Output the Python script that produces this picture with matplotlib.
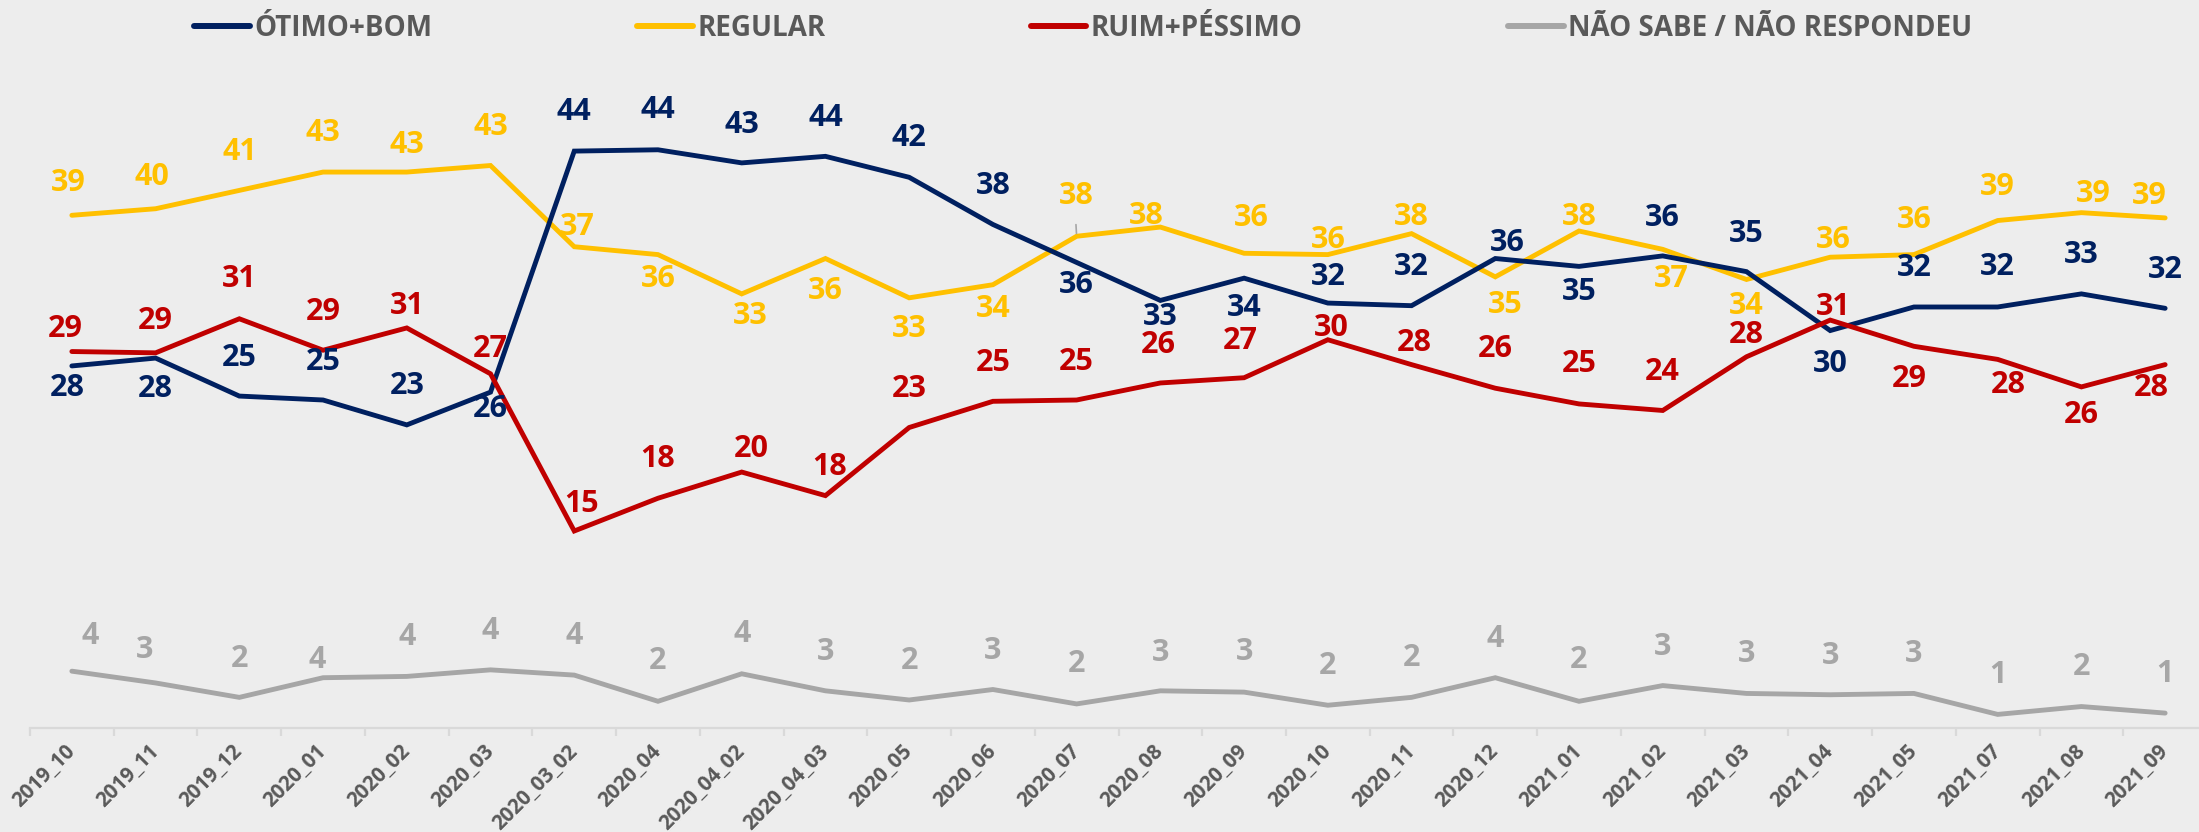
import numpy as np
import matplotlib
matplotlib.use("Agg")
import matplotlib.pyplot as plt
from matplotlib.lines import Line2D

plt.rcParams['font.family'] = ['Open Sans', 'DejaVu Sans']

cats = ['2019_10', '2019_11', '2019_12', '2020_01', '2020_02', '2020_03', '2020_03_02',
        '2020_04', '2020_04_02', '2020_04_03', '2020_05', '2020_06', '2020_07', '2020_08',
        '2020_09', '2020_10', '2020_11', '2020_12', '2021_01', '2021_02', '2021_03',
        '2021_04', '2021_05', '2021_07', '2021_08', '2021_09']

otimo = [27.6, 28.2, 25.3, 25.0, 23.1, 25.6, 44.0, 44.1, 43.1, 43.6, 42.0, 38.4, 35.5,
         32.6, 34.3, 32.4, 32.2, 35.8, 35.2, 36.0, 34.8, 30.3, 32.1, 32.1, 33.1, 32.0]
otimo_lbl = [28, 28, 25, 25, 23, 26, 44, 44, 43, 44, 42, 38, 36,
             33, 34, 32, 32, 36, 35, 36, 35, 30, 32, 32, 33, 32]

regular = [39.1, 39.6, 41.0, 42.4, 42.4, 42.9, 36.7, 36.1, 33.1, 35.8, 32.8, 33.8, 37.5,
           38.2, 36.2, 36.1, 37.7, 34.4, 37.9, 36.5, 34.2, 35.9, 36.1, 38.7, 39.3, 38.9]
regular_lbl = [39, 40, 41, 43, 43, 43, 37, 36, 33, 36, 33, 34, 38,
               38, 36, 36, 38, 35, 38, 37, 34, 36, 36, 39, 39, 39]

ruim = [28.7, 28.6, 31.2, 28.8, 30.5, 27.0, 15.0, 17.5, 19.5, 17.7, 22.9, 24.9, 25.0,
        26.3, 26.7, 29.6, 27.7, 25.9, 24.7, 24.2, 28.3, 31.1, 29.1, 28.1, 26.0, 27.7]
ruim_lbl = [29, 29, 31, 29, 31, 27, 15, 18, 20, 18, 23, 25, 25,
            26, 27, 30, 28, 26, 25, 24, 28, 31, 29, 28, 26, 28]

ns = [4.3, 3.4, 2.3, 3.8, 3.9, 4.4, 4.0, 2.0, 4.1, 2.8, 2.1, 2.9, 1.8,
      2.8, 2.7, 1.7, 2.3, 3.8, 2.0, 3.2, 2.6, 2.5, 2.6, 1.0, 1.6, 1.1]
ns_lbl = [4, 3, 2, 4, 4, 4, 4, 2, 4, 3, 2, 3, 2,
          3, 3, 2, 2, 4, 2, 3, 3, 3, 3, 1, 2, 1]

names = ['ÓTIMO+BOM', 'REGULAR', 'RUIM+PÉSSIMO', 'NÃO SABE / NÃO RESPONDEU']
colors = ['#002060', '#FFC000', '#C00000', '#A6A6A6']

# label offsets in pixels (dx, dy) relative to each point
otimo_dy = [-22, -31, 38, 38, 39, -17, 39, 40, 38, 38, 39, 38, -23,
            -17, -30, 26, 39, 16, -26, 38, 38, -33, 39, 40, 39, 38]
otimo_dx = [-5, 0, 0, 0, 0, 0, 0, 0, 0, 0, 0, 0, 0,
            0, 0, 0, 0, 12, 0, 0, 0, 0, 0, 0, 0, 0]
regular_dy = [32, 32, 38, 39, 27, 39, 20, -24, -22, -32, -31, -24, 40,
              11, 35, 15, 17, -28, 14, -30, -27, 17, 35, 34, 19, 22]
regular_dx = [-4, -4, 0, 0, 0, 0, 3, 0, 9, 0, 0, 0, 0,
              -14, 7, 0, 0, 10, 0, 9, 0, 3, 0, 0, 12, -16]
ruim_dy = [23, 32, 40, 38, 22, 25, 27, 39, 23, 29, 39, 38, 38,
           38, 37, 12, 22, 39, 40, 38, 22, 13, -33, -26, -28, -23]
ruim_dx = [-7, 0, 0, 0, 0, 0, 7, 0, 10, 4, 0, 0, 0,
           -2, -4, 3, 3, 0, 0, 0, 0, 3, -5, 11, 0, -14]
ns_dy = [35, 33, 38, 18, 39, 39, 39, 40, 40, 39, 39, 39, 40,
         38, 40, 39, 39, 39, 41, 39, 39, 39, 39, 39, 40, 39]
ns_dx = [18, -11, 0, -6, 0, 0, 0, 0, 0, 0, 0, 0, 0,
         0, 0, 0, 0, 0, 0, 0, 0, 0, 0, 0, 0, 0]

bg = '#EDEDED'
fig = plt.figure(figsize=(21.99, 8.32), dpi=100, facecolor=bg)
ax = fig.add_axes([30 / 2199, (832 - 727.5) / 832, 2177 / 2199, 655 / 832])
ax.set_facecolor(bg)

x = np.arange(len(cats))
series = [
    (regular, regular_lbl, regular_dx, regular_dy, colors[1], 3),
    (otimo, otimo_lbl, otimo_dx, otimo_dy, colors[0], 4),
    (ruim, ruim_lbl, ruim_dx, ruim_dy, colors[2], 5),
    (ns, ns_lbl, ns_dx, ns_dy, colors[3], 3),
]
for vals, lbls, dxs, dys, c, z in series:
    ax.plot(x, vals, color=c, lw=3.5, zorder=z, solid_capstyle='round', solid_joinstyle='miter')
    for i, (v, l) in enumerate(zip(vals, lbls)):
        ax.annotate(str(l), (x[i], v), xytext=(dxs[i], dys[i]), textcoords='offset pixels',
                    ha='center', va='center', fontsize=22, fontweight='bold', color=c, zorder=6)

# leader line for REGULAR 2020_07
ax.annotate('', (x[12], regular[12]), xytext=(x[12] - 0.01, regular[12] + 1.1),
            arrowprops=dict(arrowstyle='-', color='#A6A6A6', lw=1.2), zorder=7)

ax.set_xlim(-0.5, len(cats) - 0.5)
ax.set_ylim(0, 50)
for s in ['top', 'right', 'left']:
    ax.spines[s].set_visible(False)
ax.spines['bottom'].set_color('#D9D9D9')
ax.spines['bottom'].set_linewidth(1.6)
ax.set_yticks([])
ax.set_xticks(x)
ax.set_xticklabels(cats, rotation=45, ha='right', va='center', rotation_mode='anchor',
                   fontsize=14.8, fontweight='bold', color='#595959')
ax.tick_params(axis='x', which='major', length=0, pad=15)
ax.set_xticks(np.arange(len(cats) + 1) - 0.5, minor=True)
ax.tick_params(axis='x', which='minor', length=6, width=1.6, color='#D9D9D9')

handles = [Line2D([0], [0], color=c, lw=4.3, solid_capstyle='round') for c in colors]
leg = fig.legend(handles, names, loc='center', bbox_to_anchor=(1083 / 2199, 1 - 28 / 832),
                 ncol=4, frameon=False, handlelength=2.0, handletextpad=0.15,
                 columnspacing=7.4, prop={'size': 20, 'weight': 'bold'})
for t in leg.get_texts():
    t.set_color('#595959')

fig.savefig('out.png', dpi=100, facecolor=bg)
